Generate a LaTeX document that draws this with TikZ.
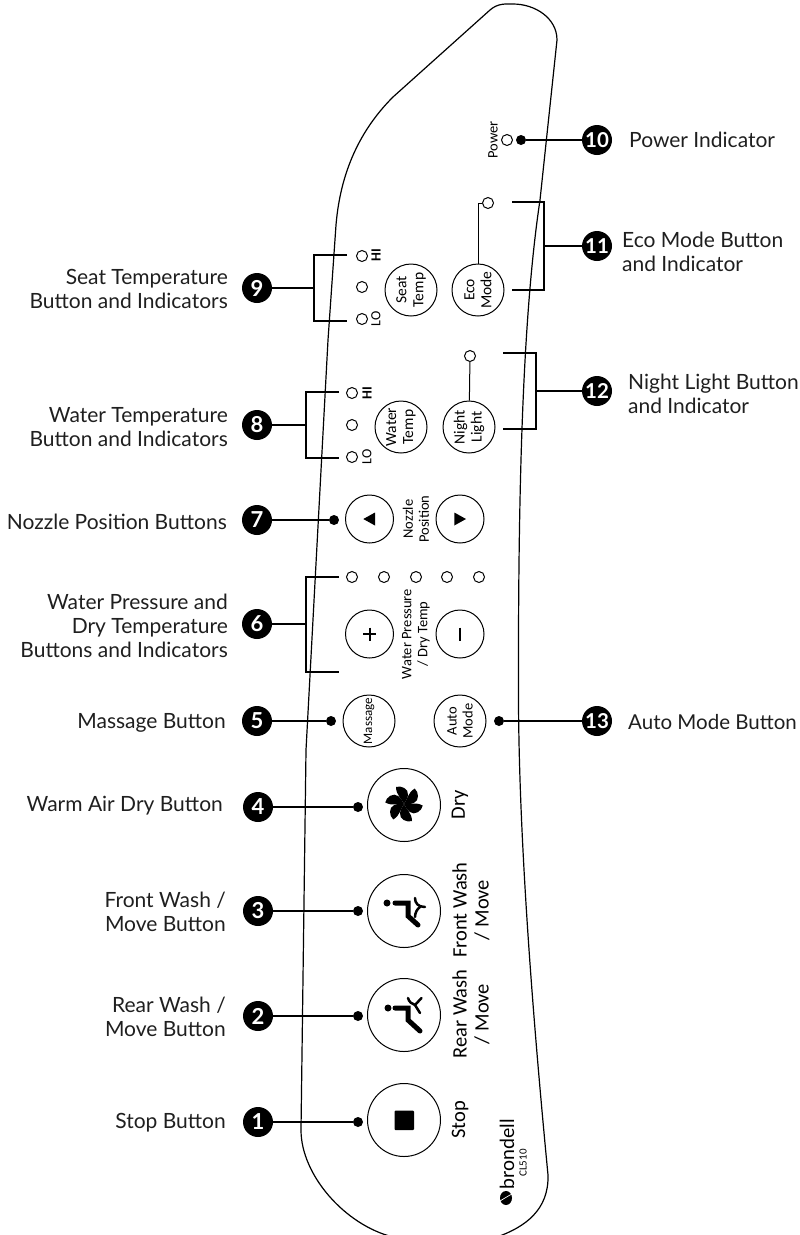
\documentclass[tikz,border=0pt]{standalone}
\usepackage{fontspec}
\setmainfont{Lato}
\newfontfamily\panelfont{Carlito}
\newcommand{\fsz}[2]{\fontsize{#1}{#2}\selectfont}

\begin{document}
\begin{tikzpicture}[x=1pt,y=-1pt]
  \useasboundingbox (0,0) rectangle (800,1235);
  \tikzstyle{label}=[inner sep=0pt,align=right,anchor=east,text=black!88,font=\fsz{21}{24}]
  \tikzstyle{rlabel}=[label,align=left,anchor=west]
  \tikzstyle{number}=[circle,fill=black,text=white,minimum size=30pt,inner sep=0pt,font=\fsz{22}{22}\bfseries]
  \tikzstyle{wide}=[font=\fsz{20.5}{20}\bfseries]
  \tikzstyle{dot}=[circle,fill=black,minimum size=10pt,inner sep=0pt]
  \tikzstyle{leader}=[line width=2.8pt]
  \tikzstyle{led}=[circle,draw,line width=1pt,minimum size=11pt,inner sep=0pt]
  \tikzstyle{bigbtn}=[circle,draw,line width=1pt,minimum size=73pt,inner sep=0pt]
  \tikzstyle{midbtn}=[circle,draw,line width=1pt,minimum size=48pt,inner sep=0pt]
  \tikzstyle{txtbtn}=[circle,draw,line width=1pt,minimum size=52pt,inner sep=0pt,rotate=90,align=center,font=\panelfont\fsz{15.5}{17}]
  \tikzstyle{print}=[rotate=90,inner sep=0pt,align=center,font=\panelfont\fsz{20.5}{22}]
  \tikzstyle{small}=[rotate=90,inner sep=0pt,align=center,font=\panelfont\fsz{14.5}{16}]
  \tikzstyle{icon}=[line width=5pt,line cap=round,line join=miter]
  \tikzstyle{spray}=[line width=2.5pt,line cap=round]
  \tikzset{blade/.pic={\fill (0,0) .. controls (-2,-5) and (-8,-9) .. (-8,-17) .. controls (-3,-19) and (5,-15) .. (4,-9) .. controls (3.5,-5) and (1,-2) .. (0,0);}}

  % panel outline
  \draw[line width=1.2pt] (393,1237) .. controls (345,1225) and (301,1175) .. (301,1130)
    -- (306,750) -- (328,340) -- (336,225) .. controls (341,165) and (365,125) .. (393,97)
    -- (490,10) .. controls (498,3) and (506,4) .. (513,4) .. controls (535,4) and (557,18) .. (557,40)
    -- (540,200) .. controls (522,320) and (518,500) .. (518.5,700)
    .. controls (519,850) and (535,1040) .. (548,1175) .. controls (549,1210) and (525,1227) .. (497,1237);

  % large buttons
  \node[bigbtn] (B_stop) at (404,1120) {};
  \node[bigbtn] (B_rear) at (404,1015) {};
  \node[bigbtn] (B_front) at (404,911) {};
  \node[bigbtn] (B_dry) at (404,805) {};
  \node[midbtn] (B_plus) at (369.5,634) {};
  \node[midbtn] (B_minus) at (460,634) {};
  \node[midbtn] (B_left) at (369.5,519) {};
  \node[midbtn] (B_right) at (460,519) {};
  \node[txtbtn,font=\panelfont\fsz{13}{14}] (B_massage) at (369,721) {Massage};
  \node[txtbtn,font=\panelfont\fsz{14.5}{16}] (B_auto) at (460,721) {Auto\\Mode};
  \node[txtbtn] (B_water) at (401,427) {Water\\Temp};
  \node[txtbtn] (B_night) at (469,427) {Night\\Light};
  \node[txtbtn] (B_seat) at (411,290) {Seat\\Temp};
  \node[txtbtn] (B_eco) at (478,290) {Eco\\Mode};

  % indicators
  \node[led] (L_power) at (507,140) {};
  \node[led] (L_eco) at (488,203) {};
  \node[led] (L_night) at (470,356) {};
  \node[led] (L_seat1) at (362,256) {};
  \node[led] (L_seat2) at (362,287) {};
  \node[led] (L_seat3) at (362,319) {};
  \node[led] (L_water1) at (352,393) {};
  \node[led] (L_water2) at (352,425) {};
  \node[led] (L_water3) at (352,457) {};
  \node[led] (L_press1) at (352,577) {};
  \node[led] (L_press2) at (384,577) {};
  \node[led] (L_press3) at (416,577) {};
  \node[led] (L_press4) at (447,577) {};
  \node[led] (L_press5) at (479,577) {};
  \draw[line width=1pt] (L_eco.west) -| (B_eco.east);
  \draw[line width=1pt] (L_night) -- (B_night);

  % printed words on the panel
  \node[small] (P_power) at (493,140) {Power};
  \node[small,font=\panelfont\bfseries\fsz{14}{14}] (P_hi1) at (376,255) {HI};
  \node[small,font=\panelfont\fsz{14}{14}] (P_lo1) at (376,319) {LO};
  \node[small,font=\panelfont\bfseries\fsz{14}{14}] (P_hi2) at (367,393) {HI};
  \node[small,font=\panelfont\fsz{14}{14}] (P_lo2) at (367,457) {LO};
  \node[small] (P_nozzle) at (416,519) {Nozzle\\Position};
  \node[small] (P_press) at (416,634) {Water Pressure\\/ Dry Temp};
  \node[print] (P_dry) at (460,805) {Dry};
  \node[print] (P_front) at (471,910) {Front Wash\\/ Move};
  \node[print] (P_rear) at (471,1014) {Rear Wash\\/ Move};
  \node[print] (P_stop) at (460,1120) {Stop};
  \node[rotate=90,inner sep=0pt,font=\fsz{19.5}{20}\selectfont] (P_brand) at (507,1154) {brondell};
  \node[rotate=90,inner sep=0pt,font=\panelfont\fsz{11}{11}] (P_model) at (523,1163) {CL510};
  \fill (506,1198) ellipse (6pt and 7pt);
  \draw[white,line width=0.7pt] (500,1201) .. controls (505,1198) and (508,1196) .. (512,1194);

  % button marks
  \fill (363.3,519) -- (375,512.5) -- (375,525.5) -- cycle;
  \fill (466,519) -- (454.3,512.5) -- (454.3,525.5) -- cycle;
  \draw[line width=2pt] (363,634) -- (376,634);
  \draw[line width=2pt] (369.5,627.5) -- (369.5,640.5);
  \draw[line width=2pt] (460,627.5) -- (460,640.5);
  \fill[rounded corners=1pt] (394.5,1110.5) rectangle (414,1130);
  \pic at (404,804) {blade};
  \pic[rotate=60] at (404,804) {blade};
  \pic[rotate=120] at (404,804) {blade};
  \pic[rotate=180] at (404,804) {blade};
  \pic[rotate=240] at (404,804) {blade};
  \pic[rotate=300] at (404,804) {blade};
  \fill (387,903) circle (3.5pt);
  \draw[icon] (395,903) -- (408,903) -- (408,916) -- (418,925);
  \draw[spray] (415,898) .. controls (415,903) and (418,907) .. (425,907);
  \draw[spray] (415,917) .. controls (415,913) and (417,909) .. (420,907);
  \fill (388,1008) circle (3.5pt);
  \draw[icon] (395,1008) -- (408,1008) -- (408,1020) -- (420,1031);
  \draw[spray] (421.5,998) -- (415,1005) -- (420,1013);
  \draw[spray] (408,998) .. controls (409,1002) and (412,1004) .. (415,1005);

  % numbers and labels
  \node[number] (N_1) at (258,1122) {1};
  \node[number] (N_2) at (258,1016) {2};
  \node[number] (N_3) at (258,911) {3};
  \node[number] (N_4) at (258,807) {4};
  \node[number] (N_5) at (257,721) {5};
  \node[number] (N_6) at (257,624) {6};
  \node[number] (N_7) at (257,520) {7};
  \node[number] (N_8) at (257,425) {8};
  \node[number] (N_9) at (257,288) {9};
  \node[number,wide] (N_10) at (597,140) {10};
  \node[number,wide] (N_11) at (597,246) {11};
  \node[number,wide] (N_12) at (597,391) {12};
  \node[number,wide] (N_13) at (597,721) {13};
  \node[label] (T_1) at (226,1123) {Stop Button};
  \node[label] (T_2) at (226,1017) {Rear Wash /\\Move Button};
  \node[label] (T_3) at (226,912) {Front Wash /\\Move Button};
  \node[label] (T_4) at (223,806) {Warm Air Dry Button};
  \node[label] (T_5) at (226,723) {Massage Button};
  \node[label] (T_6) at (228,626) {Water Pressure and\\Dry Temperature\\Buttons and Indicators};
  \node[label] (T_7) at (227,522) {Nozzle Position Buttons};
  \node[label] (T_8) at (228,427) {Water Temperature\\Button and Indicators};
  \node[label] (T_9) at (228,289) {Seat Temperature\\Button and Indicators};
  \node[rlabel] (T_10) at (629,140) {Power Indicator};
  \node[rlabel] (T_11) at (622,252) {Eco Mode Button\\and Indicator};
  \node[rlabel] (T_12) at (628,394) {Night Light Button\\and Indicator};
  \node[rlabel,font=\fsz{20.5}{24}] (T_13) at (628,722) {Auto Mode Button};

  % leaders ending in dots
  \node[dot] (D_1) at (358,1122) {};
  \node[dot] (D_2) at (358,1016) {};
  \node[dot] (D_3) at (358,911) {};
  \node[dot] (D_4) at (358,807) {};
  \node[dot] (D_5) at (331,721) {};
  \node[dot] (D_7) at (334,520) {};
  \node[dot] (D_10) at (521,140) {};
  \node[dot] (D_13) at (499,721) {};
  \draw[leader] (N_1) -- (D_1);
  \draw[leader] (N_2) -- (D_2);
  \draw[leader] (N_3) -- (D_3);
  \draw[leader] (N_4) -- (D_4);
  \draw[leader] (N_5) -- (D_5);
  \draw[leader] (N_7) -- (D_7);
  \draw[leader] (N_10) -- (D_10);
  \draw[leader] (N_13) -- (D_13);

  % leaders ending in brackets
  \coordinate (A_9) at (347,255);
  \coordinate (J_9) at (314,288);
  \coordinate (Z_9) at (347,321);
  \coordinate (A_8) at (339,392);
  \coordinate (J_8) at (306,425);
  \coordinate (Z_8) at (339,458);
  \coordinate (A_6) at (339,577);
  \coordinate (J_6) at (306,624);
  \coordinate (Z_6) at (339,672);
  \coordinate (A_11) at (512,202);
  \coordinate (J_11) at (544,246);
  \coordinate (Z_11) at (512,290);
  \coordinate (A_12) at (503,353);
  \coordinate (J_12) at (536,391);
  \coordinate (Z_12) at (503,429);
  \draw[leader] (A_9) -| (J_9) |- (Z_9);
  \draw[leader] (N_9) -- (J_9);
  \draw[leader] (A_8) -| (J_8) |- (Z_8);
  \draw[leader] (N_8) -- (J_8);
  \draw[leader] (A_6) -| (J_6) |- (Z_6);
  \draw[leader] (N_6) -- (J_6);
  \draw[leader] (A_11) -| (J_11) |- (Z_11);
  \draw[leader] (N_11) -- (J_11);
  \draw[leader] (A_12) -| (J_12) |- (Z_12);
  \draw[leader] (N_12) -- (J_12);
\end{tikzpicture}
\end{document}
